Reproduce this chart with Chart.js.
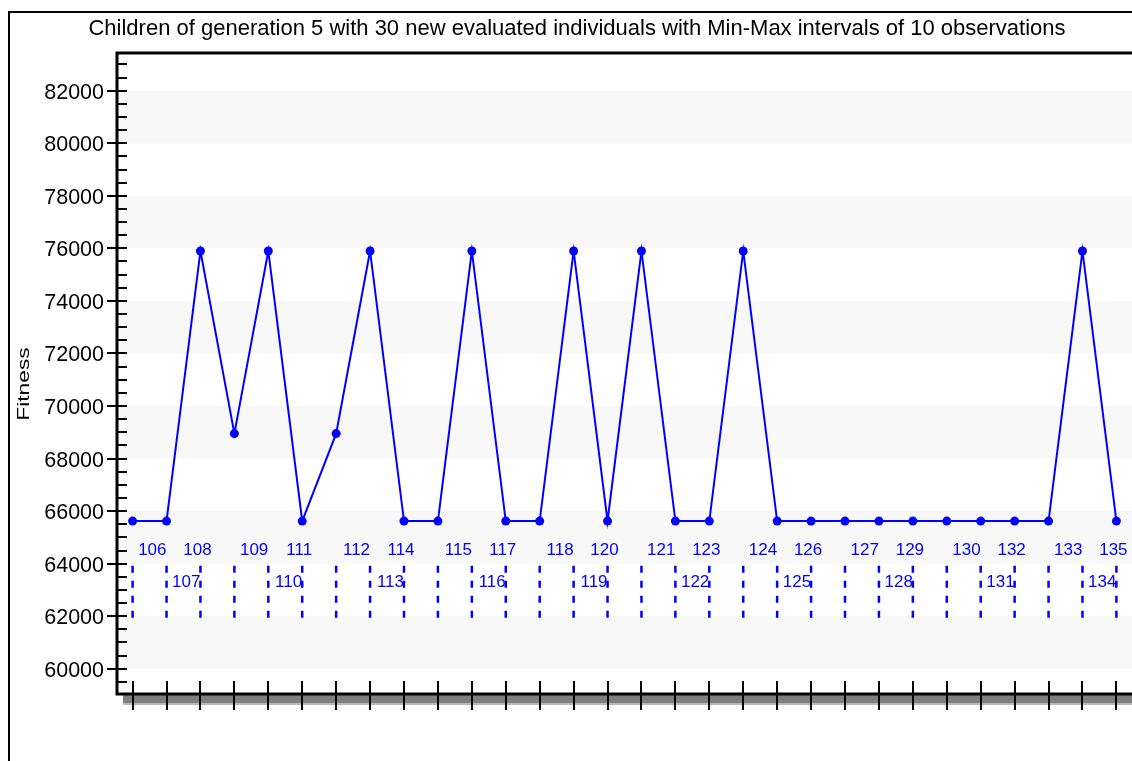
<!DOCTYPE html>
<html>
<head>
<meta charset="utf-8">
<script src="https://cdn.jsdelivr.net/npm/chart.js@4/dist/chart.umd.min.js"></script>
<style>
  html, body { margin: 0; padding: 0; background: #fff; overflow: hidden; }
  #wrap { width: 1132px; height: 761px; position: relative; }
</style>
</head>
<body>
<div id="wrap"><canvas id="chart" width="1132" height="761"></canvas></div>
<script>
// ── Data ───────────────────────────────────────────────
const categories = ['106', '107', '108', '109', '110', '111', '112', '113', '114', '115',
                    '116', '117', '118', '119', '120', '121', '122', '123', '124', '125',
                    '126', '127', '128', '129', '130', '131', '132', '133', '134', '135'];
const fitness = [65620, 65620, 75900, 68950, 75900, 65620, 68950, 75900, 65620, 65620,
                 75900, 65620, 65620, 75900, 65620, 75900, 65620, 65620, 75900, 65620,
                 65620, 65620, 65620, 65620, 65620, 65620, 65620, 65620, 75900, 65620];
const intervalMin = [61850, 61850, 61850, 61850, 61850, 61850, 61850, 61850, 61850, 61850,
                     61850, 61850, 61850, 61850, 61850, 61850, 61850, 61850, 61850, 61850,
                     61850, 61850, 61850, 61850, 61850, 61850, 61850, 61850, 61850, 61850];
const intervalMax = [63920, 63920, 63920, 63920, 63920, 63920, 63920, 63920, 63920, 63920,
                     63920, 63920, 63920, 63920, 63920, 63920, 63920, 63920, 63920, 63920,
                     63920, 63920, 63920, 63920, 63920, 63920, 63920, 63920, 63920, 63920];
const yTickLabels = [60000, 62000, 64000, 66000, 68000, 70000, 72000, 74000, 76000, 78000, 80000, 82000];
const yMinorStep = 500;

const titleText = 'Children of generation 5 with 30 new evaluated individuals with Min-Max intervals of 10 observations';
const yTitle = 'Fitness';
const FONT = "'Liberation Sans', Arial, sans-serif";
const BLUE = '#0000ff';

// ── Frame, bands, intervals, labels, axes ──────────────
const decor = {
    id: 'decor',
    beforeDraw(chart) {
        const ctx = chart.ctx;
        ctx.save();
        ctx.fillStyle = '#fff';
        ctx.fillRect(0, 0, chart.width, chart.height);
        // outer frame
        ctx.strokeStyle = '#000';
        ctx.lineWidth = 2;
        ctx.beginPath();
        ctx.moveTo(9, chart.height);
        ctx.lineTo(9, 12);
        ctx.lineTo(chart.width, 12);
        ctx.stroke();
        // title
        ctx.fillStyle = '#000';
        ctx.font = '22px ' + FONT;
        ctx.textAlign = 'center';
        ctx.textBaseline = 'alphabetic';
        ctx.fillText(titleText, 577, 35);
        // y title (stretched along its length like the reference)
        ctx.translate(29, 384);
        ctx.rotate(-Math.PI / 2);
        ctx.scale(1.38, 1);
        ctx.font = '16.5px ' + FONT;
        ctx.fillText(yTitle, 0, 0);
        ctx.restore();
    },
    beforeDatasetsDraw(chart) {
        const ctx = chart.ctx;
        const a = chart.chartArea;
        const x = chart.scales.x, y = chart.scales.y;
        ctx.save();
        // alternating bands
        ctx.fillStyle = '#f8f8f8';
        for (let v = 60000; v < 84000; v += 4000) {
            const t = y.getPixelForValue(v + 2000), b = y.getPixelForValue(v);
            ctx.fillRect(a.left, t, chart.width - a.left, b - t);
        }
        // min-max intervals
        ctx.strokeStyle = BLUE;
        ctx.lineWidth = 2.5;
        ctx.setLineDash([7, 8]);
        categories.forEach((c, i) => {
            const px = x.getPixelForValue(Number(c));
            ctx.beginPath();
            ctx.moveTo(px, y.getPixelForValue(intervalMax[i]));
            ctx.lineTo(px, y.getPixelForValue(intervalMin[i]));
            ctx.stroke();
        });
        ctx.setLineDash([]);
        // category labels, two staggered rows
        ctx.fillStyle = BLUE;
        ctx.font = '17px ' + FONT;
        ctx.textBaseline = 'alphabetic';
        const upper = y.getPixelForValue(64337), lower = y.getPixelForValue(63107);
        categories.forEach((c, i) => {
            const v = Number(c);
            if (i % 3 === 2) {
                ctx.textAlign = 'center';
                ctx.fillText(c, x.getPixelForValue(v) - 3, upper);
            } else {
                ctx.textAlign = 'right';
                ctx.fillText(c, x.getPixelForValue(v + 1), i % 3 === 0 ? upper : lower);
            }
        });
        ctx.restore();
    },
    afterDraw(chart) {
        const ctx = chart.ctx;
        const a = chart.chartArea;
        const x = chart.scales.x, y = chart.scales.y;
        ctx.save();
        // shadow under the x axis
        ctx.fillStyle = '#b8b8b8';
        ctx.fillRect(a.left + 6, a.bottom + 1, chart.width, 10);
        ctx.fillStyle = '#808080';
        ctx.fillRect(a.left + 6, a.bottom + 1, chart.width, 8);
        ctx.strokeStyle = '#000';
        ctx.lineWidth = 3;
        ctx.beginPath();
        ctx.moveTo(chart.width, a.top);
        ctx.lineTo(a.left, a.top);
        ctx.lineTo(a.left, a.bottom);
        ctx.lineTo(chart.width, a.bottom);
        ctx.stroke();
        // y ticks and labels
        ctx.lineWidth = 2;
        ctx.fillStyle = '#000';
        ctx.font = '21.5px ' + FONT;
        ctx.textAlign = 'right';
        ctx.textBaseline = 'alphabetic';
        const first = Math.ceil(y.min / yMinorStep) * yMinorStep;
        for (let v = first; v <= y.max; v += yMinorStep) {
            const py = Math.round(y.getPixelForValue(v));
            const major = yTickLabels.includes(v);
            ctx.beginPath();
            ctx.moveTo(major ? a.left - 10 : a.left, py);
            ctx.lineTo(a.left + 10, py);
            ctx.stroke();
            if (major) ctx.fillText(String(v), a.left - 13, py + 7.7);
        }
        // x ticks
        categories.forEach(c => {
            const px = Math.round(x.getPixelForValue(Number(c)));
            ctx.beginPath();
            ctx.moveTo(px, a.bottom - 13);
            ctx.lineTo(px, a.bottom + 16);
            ctx.stroke();
        });
        ctx.restore();
    }
};

new Chart(document.getElementById('chart'), {
    type: 'line',
    data: {
        datasets: [{
            label: yTitle,
            data: categories.map((c, i) => ({ x: Number(c), y: fitness[i] })),
            borderColor: BLUE,
            backgroundColor: BLUE,
            borderWidth: 2,
            pointRadius: 4.5,
            pointBorderWidth: 0,
            pointBackgroundColor: BLUE,
            tension: 0,
            clip: false,
        }]
    },
    options: {
        responsive: false,
        animation: false,
        events: [],
        layout: { autoPadding: false, padding: { top: 53, right: 0, bottom: 67, left: 0 } },
        plugins: { legend: { display: false }, title: { display: false }, tooltip: { enabled: false } },
        scales: {
            x: {
                type: 'linear', min: 105.54, max: 135.46,
                display: false,
            },
            y: {
                type: 'linear', min: 59040, max: 83435,
                grid: { display: false, drawTicks: false },
                border: { display: false },
                afterFit: s => { s.width = 117; },
                ticks: { display: false }
            }
        }
    },
    plugins: [decor]
});
</script>
</body>
</html>
